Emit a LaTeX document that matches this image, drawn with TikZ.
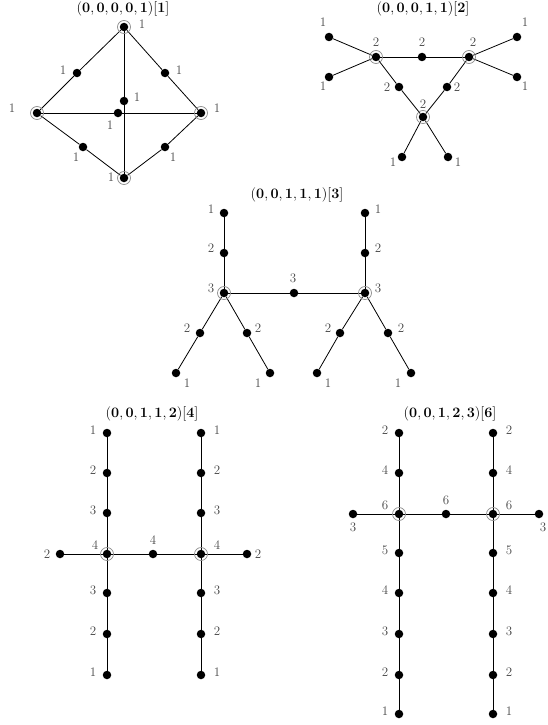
\documentclass[tikz,border=0pt]{standalone}
\newcommand\V[4]{\node[dot] (#1) at (#2) {}; \node[lab] (#1t) at (#3) {#4};}
\newcommand\Ring[1]{\draw[ring] (#1) circle (6.5pt);}
\begin{document}
\begin{tikzpicture}[x=1pt,y=-1pt,
  dot/.style={circle,fill=black,inner sep=0pt,minimum size=8.5pt},
  lab/.style={inner sep=0pt,font=\fontsize{13}{15}\selectfont,text=black!72},
  ttl/.style={inner sep=0pt,font=\fontsize{13.5}{15}\selectfont},
  ring/.style={draw=black!45,line width=0.7pt},
  edge/.style={line width=0.8pt}]
\useasboundingbox (0,0) rectangle (548,725);
% ---------- diagram 1 ----------
\node[ttl] (t1) at (123,9) {$\mathbf{(0,0,0,0,1)[1]}$};
\V{a1}{124,27}{142,24}{1}
\V{a2}{37,113}{12,108}{1}
\V{a3}{201,113}{217,108}{1}
\V{a4}{124,178}{111,177}{1}
\V{a12}{77,73}{63,70}{1}
\V{a13}{165,73}{179,70}{1}
\V{a24}{83,147}{76,157}{1}
\V{a34}{165,147}{173,157}{1}
\V{a14}{124,101}{137,97}{1}
\V{a23}{118,113}{110,125}{1}
\draw[edge] (a1) -- (a12) -- (a2);
\draw[edge] (a1) -- (a13) -- (a3);
\draw[edge] (a2) -- (a24) -- (a4);
\draw[edge] (a3) -- (a34) -- (a4);
\draw[edge] (a1) -- (a14) -- (a4);
\draw[edge] (a2) -- (a23) -- (a3);
\Ring{a1}\Ring{a2}\Ring{a3}\Ring{a4}
% ---------- diagram 2 ----------
\node[ttl] (t2) at (423,9) {$\mathbf{(0,0,0,1,1)[2]}$};
\V{b1}{376,57}{376,42}{2}
\V{b2}{469,57}{473,42}{2}
\V{b3}{423,117}{423,104}{2}
\V{bm}{422,57}{422,42}{2}
\V{bl}{399,87}{387,87}{2}
\V{br}{447,87}{457,87}{2}
\V{bx1}{329,37}{323,22}{1}
\V{bx2}{329,77}{323,86}{1}
\V{bx3}{517,37}{525,22}{1}
\V{bx4}{517,77}{525,86}{1}
\V{bx5}{402,157}{393,162}{1}
\V{bx6}{448,157}{458,162}{1}
\draw[edge] (b1) -- (bm) -- (b2);
\draw[edge] (b1) -- (bl) -- (b3);
\draw[edge] (b2) -- (br) -- (b3);
\draw[edge] (b1) -- (bx1);
\draw[edge] (b1) -- (bx2);
\draw[edge] (b2) -- (bx3);
\draw[edge] (b2) -- (bx4);
\draw[edge] (b3) -- (bx5);
\draw[edge] (b3) -- (bx6);
\Ring{b1}\Ring{b2}\Ring{b3}
% ---------- diagram 3 ----------
\node[ttl] (t3) at (297,195) {$\mathbf{(0,0,1,1,1)[3]}$};
\V{c1}{224,293}{211,288}{3}
\V{c2}{365,293}{378,288}{3}
\V{cm}{294,293}{293,278}{3}
\V{cu1}{224,213}{211,209}{1}
\V{cu2}{224,253}{211,248}{2}
\V{cv1}{365,213}{378,209}{1}
\V{cv2}{365,253}{378,248}{2}
\V{cl1}{200,333}{187,328}{2}
\V{cl2}{176,373}{187,383}{1}
\V{cl3}{247,333}{258,328}{2}
\V{cl4}{270,373}{258,383}{1}
\V{cr1}{340,333}{328,328}{2}
\V{cr2}{317,373}{328,383}{1}
\V{cr3}{388,333}{401,328}{2}
\V{cr4}{411,373}{398,383}{1}
\draw[edge] (c1) -- (cm) -- (c2);
\draw[edge] (c1) -- (cu2) -- (cu1);
\draw[edge] (c2) -- (cv2) -- (cv1);
\draw[edge] (c1) -- (cl1) -- (cl2);
\draw[edge] (c1) -- (cl3) -- (cl4);
\draw[edge] (c2) -- (cr1) -- (cr2);
\draw[edge] (c2) -- (cr3) -- (cr4);
\Ring{c1}\Ring{c2}
% ---------- diagram 4 ----------
\node[ttl] (t4) at (152,414) {$\mathbf{(0,0,1,1,2)[4]}$};
\V{d1}{107,554}{95,545}{4}
\V{d2}{201,554}{217,545}{4}
\V{dm}{153,554}{153,540}{4}
\V{dl}{60,554}{47,554}{2}
\V{dr}{247,554}{258,554}{2}
\V{du1}{107,433}{93,430}{1}
\V{du2}{107,473}{93,470}{2}
\V{du3}{107,513}{93,510}{3}
\V{dd3}{107,593}{93,590}{3}
\V{dd2}{107,634}{93,631}{2}
\V{dd1}{107,675}{93,672}{1}
\V{dv1}{201,433}{217,430}{1}
\V{dv2}{201,473}{217,470}{2}
\V{dv3}{201,513}{217,510}{3}
\V{dw3}{201,593}{217,590}{3}
\V{dw2}{201,634}{217,631}{2}
\V{dw1}{201,675}{217,672}{1}
\draw[edge] (dl) -- (d1) -- (dm) -- (d2) -- (dr);
\draw[edge] (du1) -- (du2) -- (du3) -- (d1) -- (dd3) -- (dd2) -- (dd1);
\draw[edge] (dv1) -- (dv2) -- (dv3) -- (d2) -- (dw3) -- (dw2) -- (dw1);
\Ring{d1}\Ring{d2}
% ---------- diagram 5 ----------
\node[ttl] (t5) at (450,414) {$\mathbf{(0,0,1,2,3)[6]}$};
\V{e1}{399,514}{385,505}{6}
\V{e2}{493,514}{509,505}{6}
\V{em}{446,514}{446,500}{6}
\V{el}{353,514}{353,527}{3}
\V{er}{539,514}{543,527}{3}
\V{eu1}{399,433}{385,430}{2}
\V{eu2}{399,473}{385,470}{4}
\V{ed5}{399,553}{385,550}{5}
\V{ed4}{399,593}{385,590}{4}
\V{ed3}{399,634}{385,631}{3}
\V{ed2}{399,675}{385,672}{2}
\V{ed1}{399,714}{385,711}{1}
\V{ev1}{493,433}{509,430}{2}
\V{ev2}{493,473}{509,470}{4}
\V{ew5}{493,553}{509,550}{5}
\V{ew4}{493,593}{509,590}{4}
\V{ew3}{493,634}{509,631}{3}
\V{ew2}{493,675}{509,672}{2}
\V{ew1}{493,714}{509,711}{1}
\draw[edge] (el) -- (e1) -- (em) -- (e2) -- (er);
\draw[edge] (eu1) -- (eu2) -- (e1) -- (ed5) -- (ed4) -- (ed3) -- (ed2) -- (ed1);
\draw[edge] (ev1) -- (ev2) -- (e2) -- (ew5) -- (ew4) -- (ew3) -- (ew2) -- (ew1);
\Ring{e1}\Ring{e2}
\end{tikzpicture}
\end{document}
